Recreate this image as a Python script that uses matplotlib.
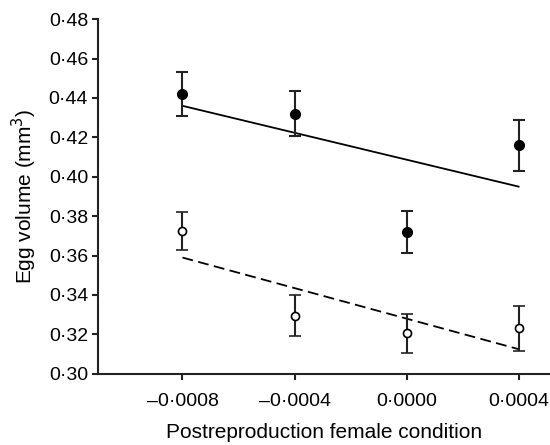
import numpy as np
import matplotlib
matplotlib.use("Agg")
import matplotlib.pyplot as plt
from matplotlib.ticker import FuncFormatter

plt.rcParams['font.family'] = ['Liberation Sans', 'DejaVu Sans']

# postreproduction female condition
condition = [-0.0008, -0.0004, 0.0000, 0.0004]

# filled circles
filled_mean = [0.442, 0.432, 0.372, 0.416]
filled_err = [0.011, 0.0115, 0.0105, 0.013]
filled_fit = [0.436, 0.395]

# open circles
open_mean = [0.3725, 0.3295, 0.3205, 0.323]
open_err = [0.0095, 0.0105, 0.0098, 0.0112]
open_fit = [0.359, 0.3125]

fit_x = [condition[0], condition[-1]]


def fmt_tick(v, decimals):
    s = f"{abs(v):.{decimals}f}".replace(".", "\u00b7")
    if v < -1e-12:
        s = "\u2013" + s
    return s


fig = plt.figure(figsize=(5.5, 4.45), dpi=100)
ax = fig.add_axes([0.179, 0.16, 0.82, 0.797])

# fitted lines
ax.plot(fit_x, filled_fit, color="black", lw=1.3)
ax.plot(fit_x, open_fit, color="black", lw=1.3, dashes=(6, 3))

# means with error bars
ax.errorbar(condition, filled_mean, yerr=filled_err, fmt="o", ms=7,
            mfc="black", mec="black", ecolor="#222222", elinewidth=1.5,
            capsize=4.3, capthick=1.5)
ax.errorbar(condition, open_mean, yerr=open_err, fmt="o", ms=5.8,
            mfc="white", mec="black", mew=1.2, ecolor="#222222",
            elinewidth=1.5, capsize=4.3, capthick=1.5)

ax.set_xlim(-0.0011, 0.00051)
ax.set_ylim(0.30, 0.48)
ax.set_xticks(condition)
ax.set_yticks(np.arange(0.30, 0.4801, 0.02))
ax.xaxis.set_major_formatter(FuncFormatter(lambda v, p: fmt_tick(v, 4)))
ax.yaxis.set_major_formatter(FuncFormatter(lambda v, p: fmt_tick(v, 2)))

for side in ["top", "right"]:
    ax.spines[side].set_visible(False)
for side in ["left", "bottom"]:
    ax.spines[side].set_linewidth(1.5)
    ax.spines[side].set_color("#222222")

ax.tick_params(direction="out", length=4.5, width=1.5, labelsize=14,
               colors="#222222", labelcolor="black")
ax.tick_params(axis="x", pad=9)
ax.tick_params(axis="y", pad=3)

ax.set_xlabel("Postreproduction female condition", fontsize=15, labelpad=10)
ax.set_ylabel("Egg volume (mm$^3$)", fontsize=15, labelpad=7)

fig.savefig("out.png", dpi=100)
